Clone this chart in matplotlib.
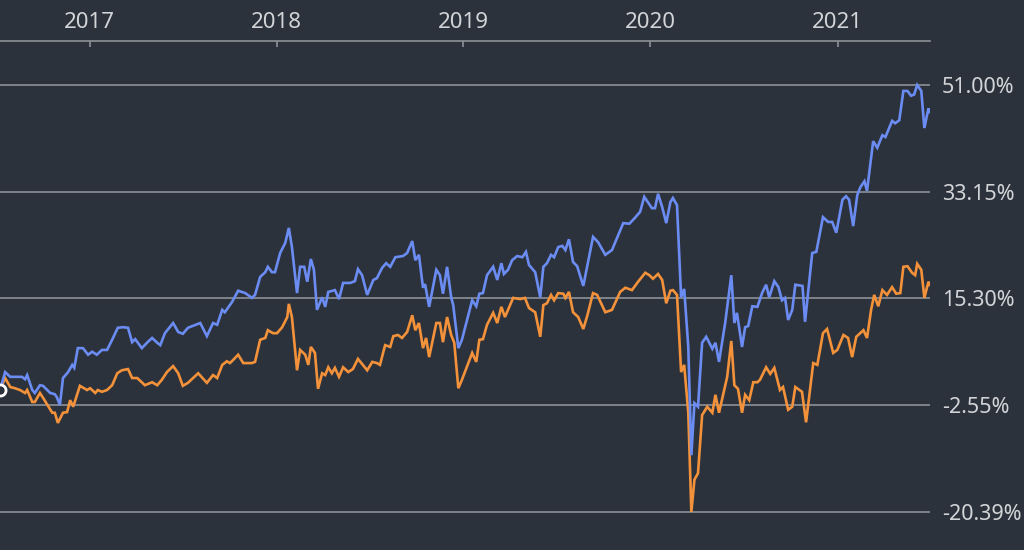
import numpy as np
import matplotlib
matplotlib.use("Agg")
import matplotlib.pyplot as plt

start_date = np.datetime64("2016-07-10")

# days after start_date, cumulative return in %
blue_days = [0, 10, 20, 43, 49, 53, 63, 68, 78, 84, 98, 107, 111, 117, 123, 133, 141, 145,
             152, 162, 172, 180, 189, 199, 209, 219, 230, 240, 250, 258, 264, 277, 287, 297,
             307, 313, 322, 338, 348, 357, 367, 391, 404, 416, 424, 434, 439, 453, 465, 479,
             492, 498, 508, 518, 523, 531, 537, 547, 557, 564, 570, 580, 586, 594, 600, 607,
             613, 619, 629, 635, 641, 654, 662, 670, 684, 693, 699, 707, 717, 729, 736, 746,
             754, 762, 772, 787, 795, 805, 811, 818, 826, 830, 838, 852, 859, 865, 873, 881,
             885, 895, 902, 922, 930, 936, 943, 951, 963, 971, 979, 984, 992, 1000, 1010, 1020,
             1027, 1033, 1045, 1055, 1061, 1068, 1076, 1082, 1090, 1098, 1104, 1111, 1119,
             1127, 1139, 1158, 1168, 1182, 1195, 1217, 1229, 1240, 1250, 1258, 1273, 1279,
             1285, 1293, 1301, 1309, 1314, 1322, 1330, 1336, 1344, 1350, 1356, 1363, 1371,
             1379, 1391, 1397, 1404, 1416, 1428, 1434, 1439, 1449, 1455, 1461, 1469, 1479,
             1488, 1496, 1502, 1512, 1520, 1527, 1533, 1539, 1547, 1553, 1567, 1572, 1586,
             1594, 1607, 1617, 1625, 1633, 1645, 1652, 1658, 1666, 1674, 1680, 1688, 1693,
             1705, 1713, 1723, 1729, 1742, 1748, 1756, 1764, 1772, 1779, 1785, 1791, 1799,
             1805, 1813, 1815]
blue_pct = [0.0, 3.0, 2.2, 2.2, 1.8, 2.5, 0.0, -0.5, 0.8, 0.7, -0.5, -0.7, -1.2, -2.5, 2.0,
            3.0, 4.2, 3.7, 7.0, 7.0, 5.9, 6.4, 5.9, 6.7, 6.7, 8.4, 10.4, 10.5, 10.4, 8.0, 8.5,
            7.0, 7.9, 8.7, 7.9, 7.5, 9.5, 11.2, 9.7, 9.4, 10.4, 11.2, 9.0, 11.2, 10.9, 13.4,
            13.0, 14.7, 16.6, 16.2, 15.4, 15.9, 18.9, 19.7, 20.6, 19.7, 19.7, 22.9, 24.6, 27.1,
            23.9, 16.2, 20.6, 20.6, 18.1, 21.9, 20.1, 13.4, 15.5, 13.9, 16.4, 16.7, 15.2, 17.9,
            17.9, 18.2, 20.2, 19.2, 15.9, 18.4, 18.7, 20.4, 21.2, 20.6, 22.2, 22.4, 22.9, 24.9,
            21.7, 22.6, 17.1, 17.7, 13.9, 20.1, 19.2, 16.1, 20.6, 15.5, 14.2, 7.0, 8.4, 15.0,
            14.0, 16.1, 16.2, 19.2, 20.6, 18.4, 21.2, 19.4, 20.1, 21.7, 22.4, 22.2, 23.1, 20.9,
            19.7, 15.5, 20.6, 21.2, 22.6, 22.2, 23.9, 24.1, 23.4, 25.2, 21.4, 20.7, 17.4, 25.6,
            24.7, 22.6, 23.4, 27.9, 27.8, 28.8, 29.8, 32.3, 30.4, 30.4, 32.8, 30.6, 27.9, 31.4,
            32.1, 30.9, 15.5, 16.9, 7.2, -10.9, -2.2, -2.8, 7.9, 8.9, 6.9, 7.9, 4.7, 11.2, 19.2,
            11.2, 12.9, 7.2, 10.5, 10.7, 14.0, 13.9, 16.2, 17.6, 15.5, 18.2, 17.2, 15.0, 15.4,
            11.7, 13.4, 17.6, 17.4, 11.4, 22.9, 23.1, 28.9, 28.1, 28.1, 26.3, 31.8, 32.4, 31.8,
            27.4, 32.6, 33.9, 34.9, 33.3, 41.6, 40.5, 42.6, 42.3, 45.0, 44.6, 45.1, 50.0, 50.0,
            49.2, 49.4, 51.0, 50.0, 43.8, 47.1, 46.5]

orange_days = [0, 10, 20, 29, 39, 49, 53, 63, 68, 78, 84, 94, 102, 107, 113, 123, 131, 137,
               143, 156, 170, 176, 186, 191, 199, 209, 219, 229, 238, 250, 258, 268, 283, 297,
               307, 316, 326, 338, 348, 357, 367, 387, 404, 416, 424, 434, 443, 449, 455, 465,
               475, 492, 498, 508, 518, 523, 533, 541, 551, 561, 564, 570, 580, 586, 596, 602,
               607, 615, 621, 629, 635, 641, 648, 654, 662, 670, 680, 689, 699, 717, 727, 736,
               742, 752, 762, 768, 777, 785, 795, 805, 811, 818, 826, 832, 838, 852, 859, 865,
               873, 881, 887, 895, 902, 922, 930, 936, 943, 951, 963, 971, 979, 986, 1002, 1016,
               1025, 1033, 1045, 1055, 1061, 1068, 1076, 1082, 1090, 1100, 1104, 1111, 1119,
               1129, 1139, 1147, 1158, 1166, 1182, 1195, 1211, 1221, 1234, 1246, 1260, 1268,
               1275, 1285, 1293, 1301, 1309, 1314, 1322, 1330, 1336, 1344, 1350, 1356, 1363,
               1371, 1381, 1391, 1397, 1404, 1420, 1428, 1434, 1441, 1449, 1455, 1463, 1471,
               1479, 1484, 1496, 1504, 1512, 1523, 1529, 1539, 1547, 1553, 1566, 1574, 1588,
               1596, 1607, 1615, 1627, 1635, 1647, 1656, 1664, 1672, 1686, 1693, 1701, 1707,
               1715, 1723, 1732, 1742, 1750, 1758, 1764, 1772, 1781, 1787, 1791, 1799, 1805,
               1813, 1816]
orange_pct = [0.0, 2.0, 0.5, 0.3, 0.0, -0.5, 0.0, -2.0, -2.0, -0.5, -1.3, -2.7, -3.8, -3.8,
              -5.5, -3.8, -3.7, -1.7, -2.8, 0.7, 0.0, 0.3, -0.5, 0.0, -0.3, 0.0, 0.8, 2.8, 3.3,
              3.5, 2.0, 2.0, 0.8, 1.3, 0.8, 1.7, 3.0, 4.0, 2.8, 0.7, 1.2, 2.8, 1.2, 2.5, 2.0,
              4.2, 4.8, 4.5, 5.0, 5.9, 4.5, 4.5, 4.7, 8.4, 8.7, 10.0, 9.5, 9.5, 10.5, 12.2, 14.4,
              12.2, 3.3, 6.7, 5.9, 4.2, 7.2, 6.2, 0.2, 2.8, 2.5, 3.8, 2.8, 3.7, 2.2, 3.8, 3.0,
              3.5, 5.2, 3.3, 4.7, 4.5, 4.2, 7.5, 7.2, 9.0, 9.2, 8.7, 9.7, 12.5, 10.0, 11.2, 7.0,
              8.7, 5.5, 11.2, 11.2, 8.0, 12.2, 9.2, 7.9, 0.3, 1.7, 6.2, 4.7, 8.4, 8.5, 10.9,
              12.9, 11.2, 13.9, 12.2, 15.4, 15.2, 15.4, 13.7, 13.0, 8.9, 14.2, 14.5, 15.9, 15.0,
              16.2, 16.1, 15.4, 16.4, 13.0, 12.2, 10.2, 12.5, 16.2, 15.9, 13.0, 13.4, 16.4,
              17.1, 16.7, 18.1, 19.6, 19.2, 18.6, 19.4, 18.4, 14.5, 16.6, 16.7, 15.9, 3.0, 4.2,
              -3.8, -20.39, -15.0, -13.9, -4.2, -2.8, -3.8, -0.8, -3.8, 2.2, 8.2, 0.8, 0.2,
              -3.8, -0.8, -1.7, 1.3, 1.3, 1.7, 3.8, 2.7, 3.7, 0.0, 0.5, -3.3, -2.8, 0.5, -0.3,
              -5.4, 4.5, 4.2, 9.5, 10.2, 6.2, 6.7, 9.2, 8.7, 5.5, 8.9, 10.0, 8.7, 13.4, 15.9,
              14.0, 16.7, 15.9, 17.2, 16.1, 16.2, 20.6, 20.7, 19.6, 19.2, 21.1, 20.1, 15.4, 18.1,
              17.6]

y_ticks = [51.00, 33.15, 15.30, -2.55, -20.39]
y_tick_labels = ["51.00%", "33.15%", "15.30%", "-2.55%", "-20.39%"]
year_ticks = ["2017", "2018", "2019", "2020", "2021"]

bg = "#2c323c"
grid_col = "#8d9197"
text_col = "#d2d4d7"
blue = "#6b8cf2"
orange = "#f3923a"

plt.rcParams["font.family"] = ["Noto Sans", "DejaVu Sans"]

fig = plt.figure(figsize=(10.24, 5.5), dpi=100, facecolor=bg)
ax = fig.add_axes([0, 0, 930 / 1024, 509 / 550], facecolor=bg)

blue_x = start_date + np.array(blue_days, dtype="timedelta64[D]")
orange_x = start_date + np.array(orange_days, dtype="timedelta64[D]")

ax.plot(orange_x, orange_pct, color=orange, lw=1.9, solid_joinstyle="miter", zorder=3)
ax.plot(blue_x, blue_pct, color=blue, lw=1.9, solid_joinstyle="miter", zorder=4)
ax.plot(blue_x[:1], blue_pct[:1], "o", ms=8, mfc=bg, mec="white", mew=2,
        zorder=5, clip_on=False)

ax.set_xlim(start_date, start_date + np.timedelta64(1816, "D"))
ax.set_ylim(-26.75, 58.35)

# horizontal grid
ax.set_yticks(y_ticks)
ax.set_yticklabels(y_tick_labels)
ax.yaxis.tick_right()
ax.tick_params(axis="y", length=0, pad=8.5, labelsize=15.5, labelcolor=text_col)
ax.grid(axis="y", color=grid_col, lw=1.2)
ax.grid(axis="x", visible=False)

ax.xaxis.tick_top()
ax.set_xticks([np.datetime64(y + "-01-01") for y in year_ticks])
ax.set_xticklabels(year_ticks)
ax.tick_params(axis="x", direction="in", length=4, width=1.2, color=grid_col,
               pad=6, labelsize=16, labelcolor=text_col)

for s in ["left", "right", "bottom"]:
    ax.spines[s].set_visible(False)
ax.spines["top"].set_color(grid_col)
ax.spines["top"].set_linewidth(1.2)

fig.savefig("out.png", dpi=100, facecolor=bg)
